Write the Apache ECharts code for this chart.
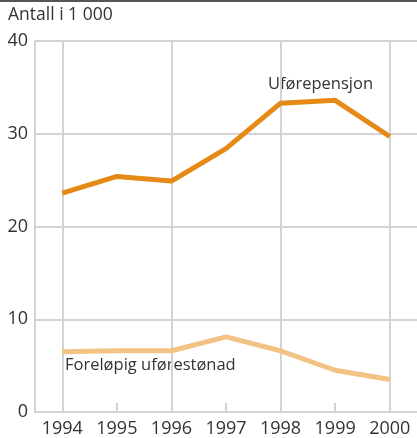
<!DOCTYPE html>
<html>
<head>
<meta charset="utf-8">
<script src="https://cdn.jsdelivr.net/npm/echarts@6/dist/echarts.min.js"></script>
<style>
  html, body { margin: 0; padding: 0; background: #fff; }
  #chart { width: 417px; height: 438px; }
</style>
</head>
<body>
<div id="chart"></div>
<script>
var years = ['1994', '1995', '1996', '1997', '1998', '1999', '2000'];
var uforepensjon = [23.6, 25.4, 24.9, 28.4, 33.3, 33.6, 29.7];
var forelopig = [6.5, 6.6, 6.6, 8.1, 6.6, 4.5, 3.5];
var yTicks = [0, 10, 20, 30, 40];
var gridYears = ['1994', '1996', '1998', '2000'];

var font = '"Open Sans", "DejaVu Sans", sans-serif';
var gridColor = '#d3d3d5';
var textColor = '#333';

var myChart = echarts.init(document.getElementById('chart'));
var option = {
    animation: false,
    textStyle: { fontFamily: font },
    grid: { left: 35, right: 0, top: 41, bottom: 25, containLabel: false },
    graphic: [
        { type: 'rect', left: 0, top: 0, shape: { width: 417, height: 2 }, style: { fill: '#555' } },
        { type: 'text', left: 8, top: 6, style: { text: 'Antall i 1 000', fontSize: 17.5, fill: textColor, fontFamily: font } },
        { type: 'text', left: 268, top: 76, style: { text: 'Uførepensjon', fontSize: 16.5, fill: textColor, fontFamily: font } },
        { type: 'text', left: 65, top: 357, style: { text: 'Foreløpig uførestønad', fontSize: 16.5, fill: textColor, fontFamily: font } }
    ],
    xAxis: {
        type: 'category',
        data: years,
        boundaryGap: true,
        axisLine: { lineStyle: { color: gridColor, width: 2 } },
        axisTick: { show: true, alignWithLabel: true, inside: true, length: 9, lineStyle: { color: gridColor, width: 2 } },
        axisLabel: { color: textColor, fontSize: 18, margin: 8, fontFamily: font },
        splitLine: { show: false }
    },
    yAxis: {
        type: 'value',
        min: yTicks[0],
        max: yTicks[yTicks.length - 1],
        interval: 10,
        axisLine: { show: true, lineStyle: { color: gridColor, width: 2 } },
        axisTick: { show: false },
        axisLabel: { color: textColor, fontSize: 18, margin: 7, fontFamily: font },
        splitLine: { show: true, lineStyle: { color: gridColor, width: 2 } }
    },
    series: [
        {
            name: 'Uførepensjon',
            type: 'line',
            data: uforepensjon,
            symbol: 'none',
            lineStyle: { color: '#e68a17', width: 5 },
            z: 3,
            markLine: {
                silent: true,
                symbol: 'none',
                label: { show: false },
                lineStyle: { color: gridColor, width: 2, type: 'solid' },
                z: 1,
                data: gridYears.map(function (y) { return { xAxis: y }; })
            }
        },
        {
            name: 'Foreløpig uførestønad',
            type: 'line',
            data: forelopig,
            symbol: 'none',
            lineStyle: { color: '#f3c385', width: 5 },
            z: 3
        }
    ]
};
myChart.setOption(option);
</script>
</body>
</html>
